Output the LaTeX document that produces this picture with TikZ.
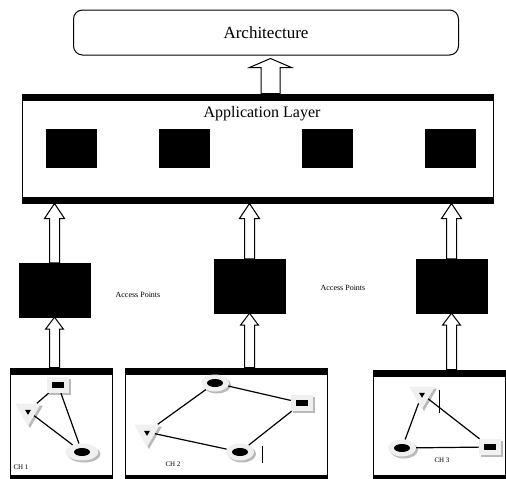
\documentclass[tikz,border=0pt]{standalone}
\usepackage{fontspec}
\setmainfont{Liberation Serif}
\usetikzlibrary{calc,shapes.geometric,shadows}

% hollow block arrow from #1 (tail) to #2 (tip)
\newcommand{\fatarrow}[5]{%
	\draw[line width=1pt, fill=white] let \p1=(#1), \p2=(#2) in
		(\x1-#3,\y1) -- (\x1-#3,\y2-#5) -- (\x1-#4,\y2-#5) -- (\x1,\y2)
		-- (\x1+#4,\y2-#5) -- (\x1+#3,\y2-#5) -- (\x1+#3,\y1) -- cycle;}

\begin{document}
\begin{tikzpicture}[x=1pt, y=-1pt,
	layer/.style = {draw, line width=1pt, inner sep=0pt,
		path picture={
			\fill[black] (path picture bounding box.north west) rectangle ([yshift=-7pt]path picture bounding box.north east);
			\fill[black] (path picture bounding box.south west) rectangle ([yshift=6pt]path picture bounding box.south east);}},
	blk/.style = {draw, fill=black, inner sep=0pt},
	dev/.style = {fill=gray!12, inner sep=0pt,
		drop shadow={shadow xshift=2pt, shadow yshift=-2pt, fill=gray!55, opacity=1}},
	sqdev/.style = {dev, minimum width=22pt, minimum height=16pt,
		path picture={\fill[black] ([xshift=-6pt,yshift=-3pt]path picture bounding box.center) rectangle ([xshift=6pt,yshift=3pt]path picture bounding box.center);}},
	tridev/.style = {dev, regular polygon, regular polygon sides=3, shape border rotate=180, minimum size=30pt,
		path picture={\fill[black] ([xshift=-3pt,yshift=5pt]path picture bounding box.center) -- ++(6pt,0pt) -- ++(-3pt,-5pt) -- cycle;}},
	ringdev/.style = {dev, ellipse, minimum width=28pt, minimum height=17pt,
		path picture={\fill[black] (path picture bounding box.center) ellipse [x radius=8pt, y radius=4pt];}},
	link/.style = {line width=1.2pt},
	smalltxt/.style = {font=\fontsize{8}{9}\selectfont},
	chtxt/.style = {font=\fontsize{7}{8}\selectfont}]
	
	\useasboundingbox (0,0) rectangle (506,479);
	
	% top
	\node[draw, line width=1pt, rounded corners=9pt, minimum width=385pt, minimum height=45pt,
		font=\fontsize{17}{20}\selectfont] (arch) at (266,32.5) {Architecture};
	\node[layer, minimum width=471pt, minimum height=109pt] (app) at (257.5,148.5) {};
	\node[font=\fontsize{16}{18}\selectfont] (apptxt) at (262,114) {Application Layer};
	\foreach \x [count=\i] in {71,184,327,450}
	{
		\node[blk, minimum width=50pt, minimum height=38pt] (s\i) at (\x,148) {};
	}
	\fatarrow{[xshift=13pt]app.north}{[xshift=13pt,yshift=-3pt]arch.south}{9.5pt}{21pt}{9pt}
	
	% access points
	\node[blk, minimum width=71pt, minimum height=54pt] (ap1) at (54.5,290) {};
	\node[blk, minimum width=71pt, minimum height=54pt] (ap2) at (249.5,286) {};
	\node[blk, minimum width=71pt, minimum height=54pt] (ap3) at (451.5,286) {};
	\node[smalltxt] (aplab1) at (138,295) {Access Points};
	\node[smalltxt] (aplab2) at (343,288) {Access Points};
	
	% clusters
	\node[layer, minimum width=102pt, minimum height=113pt] (ch1) at (61,424.5) {};
	\node[layer, minimum width=202pt, minimum height=113pt] (ch2) at (226,424.5) {};
	\node[layer, minimum width=132pt, minimum height=111pt] (ch3) at (439,425.5) {};
	
	\foreach \i in {1,2,3}
	{
		\fatarrow{ap\i.north}{ap\i.north |- app.south}{5pt}{10pt}{15pt}
		\fatarrow{ap\i.south |- ch\i.north}{ap\i.south}{5pt}{9pt}{12pt}
	}
	
	% CH 1
	\node[sqdev] (q1) at (58,385) {};
	\node[tridev] (t1) at (28,411) {};
	\node[ringdev, minimum width=33pt] (r1) at (82,452) {};
	\draw[link] (q1) -- (t1) (q1) -- (r1) (t1) -- (r1);
	\node[chtxt] (l1) at (21,467) {CH 1};
	
	% CH 2
	\node[ringdev] (r2) at (215,383) {};
	\node[sqdev] (q2) at (302,403) {};
	\node[tridev] (t2) at (147,432) {};
	\node[ringdev] (r2b) at (240,452) {};
	\draw[link] (r2) -- (q2) (r2) -- (t2) (t2) -- (r2b) (r2b) -- (q2);
	\draw ([xshift=8pt,yshift=6pt]r2b.east) -- ++(0pt,-17pt);
	\node[chtxt] (l2) at (173,464) {CH 2};
	
	% CH 3
	\node[tridev] (t3) at (422,394) {};
	\node[ringdev] (r3) at (402,448) {};
	\node[sqdev] (q3) at (490,447) {};
	\draw[link] (t3) -- (r3) (r3) -- (q3) (t3) -- (q3);
	\draw ([xshift=17pt,yshift=4pt]t3.center) -- ++(0pt,-23pt);
	\node[chtxt] (l3) at (442,460) {CH 3};
\end{tikzpicture}
\end{document}
